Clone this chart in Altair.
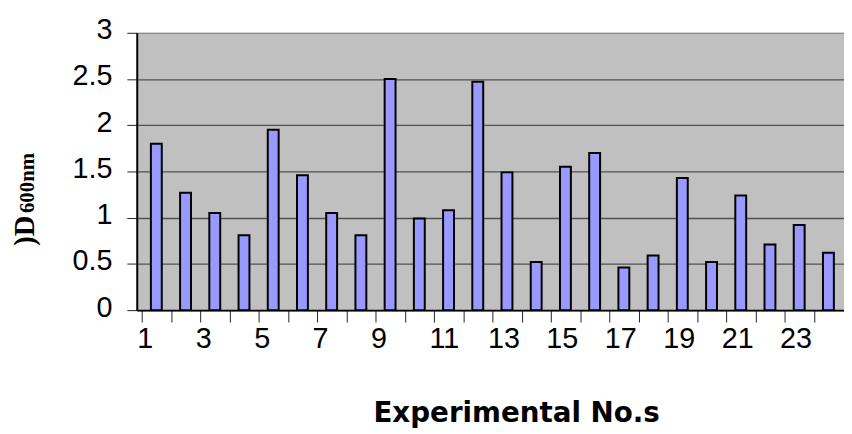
import altair as alt
import pandas as pd

# ---- data ----
experiments = list(range(1, 25))
od600 = [1.80, 1.27, 1.05, 0.81, 1.95, 1.46, 1.05, 0.81, 2.50, 0.99, 1.08, 2.47,
         1.49, 0.52, 1.55, 1.70, 0.46, 0.59, 1.43, 0.52, 1.24, 0.71, 0.92, 0.62]
y_ticks = [0, 0.5, 1, 1.5, 2, 2.5, 3]
x_tick_labels = ["1", "", "3", "", "5", "", "7", "", "9", "", "11", "",
                 "13", "", "15", "", "17", "", "19", "", "21", "", "23", ""]
y_title_main = ")D"
y_title_sub = "600nm"
x_title = "Experimental No.s"

df = pd.DataFrame({"exp": experiments, "od": od600})
df["center"] = df["exp"] - 0.5

boundaries = list(range(0, len(x_tick_labels)))
label_expr = "[" + ",".join("'%s'" % s for s in x_tick_labels) + "][datum.value]"

x_scale = alt.Scale(domain=[0, 23.864], nice=False, zero=False)
y_scale = alt.Scale(domain=[0, 3], nice=False)

grid_color = {"condition": {"test": "datum.value === 3", "value": "#8a8a8a"},
              "value": "#505050"}

bars = alt.Chart(df).mark_bar(
    width=11, fill="#9999FF", stroke="#000000", strokeWidth=2
).encode(
    x=alt.X("center:Q", scale=x_scale,
            axis=alt.Axis(values=boundaries, labelExpr=label_expr,
                          title=x_title, titleFont="DejaVu Sans",
                          titleFontSize=28, titleFontWeight="bold",
                          titleColor="#000000",
                          titleX=383, titleY=112, titleAlign="center",
                          titleBaseline="alphabetic",
                          labelFont="Liberation Sans", labelFontSize=29,
                          labelColor="#000000", labelAlign="left",
                          labelBaseline="top", labelOffset=-5, labelPadding=3,
                          labelOverlap=False, labelBound=False, labelFlush=False,
                          tickSize=12, tickColor="#222222", tickWidth=1,
                          domainColor="#000000", domainWidth=2, grid=False)),
    y=alt.Y("od:Q", scale=y_scale,
            axis=alt.Axis(values=y_ticks, format="~g", title=None,
                          labelFont="Liberation Sans", labelFontSize=29,
                          labelColor="#000000", labelPadding=15,
                          labelOffset=-3, labelBaseline="middle",
                          tickSize=10, tickColor="#222222", tickWidth=1,
                          domainColor="#000000", domainWidth=2,
                          grid=True, gridColor=grid_color, gridWidth=1.3)),
)

title_main = alt.Chart(pd.DataFrame({"t": [y_title_main]})).mark_text(
    angle=270, align="left", baseline="alphabetic",
    font="Liberation Serif", fontWeight="bold", fontSize=29, color="#000000"
).encode(x=alt.value(-104), y=alt.value(215), text="t:N")

title_sub = alt.Chart(pd.DataFrame({"t": [y_title_sub]})).mark_text(
    angle=270, align="left", baseline="alphabetic",
    font="Liberation Serif", fontWeight="bold", fontSize=21, color="#000000"
).encode(x=alt.value(-104), y=alt.value(182), text="t:N")

chart = alt.layer(bars, title_main, title_sub).properties(
    width=714, height=280,
    autosize=alt.AutoSizeParams(type="none"),
    padding={"left": 130, "top": 23, "right": 0, "bottom": 120},
).configure(background="#FFFFFF").configure_view(fill="#C0C0C0", stroke=None)

chart.save("out.html", embed_options={"renderer": "svg", "actions": False})
